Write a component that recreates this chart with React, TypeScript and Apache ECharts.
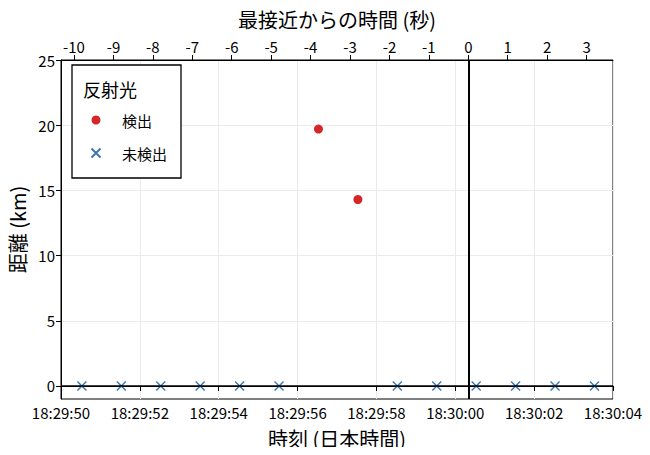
import React, { useEffect, useRef } from "react";
import * as echarts from "echarts";

const FONT = "Noto Sans CJK JP";

// seconds after 18:29:50 at which closest approach occurs
const CA_OFFSET = 10.33;
const SPAN = 14;
const START_H = 18;
const START_M = 29;
const START_S = 50;

const topTicks = [-10, -9, -8, -7, -6, -5, -4, -3, -2, -1, 0, 1, 2, 3];
const yTicks = [0, 5, 10, 15, 20, 25];

// detected points: [seconds from closest approach, distance km]
const detectedT = [-3.8, -2.8];
const detectedD = [19.7, 14.3];

// not-detected points
const missedT = [-9.8, -8.8, -7.8, -6.8, -5.8, -4.8, -1.8, -0.8, 0.2, 1.2, 2.2, 3.2];
const missedD = [0, 0, 0, 0, 0, 0, 0, 0, 0, 0, 0, 0];

const pad = (n: number) => (n < 10 ? "0" + n : "" + n);
const fmtTime = (v: number) => {
  let total = START_H * 3600 + START_M * 60 + START_S + Math.round(v);
  const h = Math.floor(total / 3600);
  total -= h * 3600;
  const m = Math.floor(total / 60);
  const s = total - m * 60;
  return `${h}:${pad(m)}:${pad(s)}`;
};

export default function App() {
  const ref = useRef<HTMLDivElement>(null);
  useEffect(() => {
    if (!ref.current) return;
    const chart = echarts.init(ref.current, undefined, { renderer: "svg" });
    const labelStyle = { color: "#000", fontFamily: FONT, fontSize: 15 };
    const nameStyle = { color: "#000", fontFamily: FONT, fontSize: 20 };
    chart.setOption({
      animation: false,
      backgroundColor: "#fff",
      textStyle: { fontFamily: FONT },
      grid: {
        left: 61,
        right: 37,
        top: 60,
        bottom: 56,
        outerBoundsMode: "none",
        containLabel: false,
        show: true,
        borderColor: "#000",
        borderWidth: 1,
        backgroundColor: "transparent",
      },
      xAxis: [
        {
          type: "value",
          position: "bottom",
          min: 0,
          max: SPAN,
          interval: 2,
          name: "時刻 (日本時間)",
          nameLocation: "middle",
          nameGap: 29,
          nameTextStyle: nameStyle,
          axisLine: { show: true, lineStyle: { color: "#000", width: 1 } },
          axisTick: { show: true, length: 5, lineStyle: { color: "#000" } },
          axisLabel: { ...labelStyle, margin: 6, formatter: (v: number) => fmtTime(v) },
          splitLine: { show: true, lineStyle: { color: "#ebebeb", width: 1 } },
        },
        {
          type: "value",
          position: "top",
          min: -CA_OFFSET,
          max: SPAN - CA_OFFSET,
          name: "最接近からの時間 (秒)",
          nameLocation: "middle",
          nameGap: 31,
          nameTextStyle: nameStyle,
          axisLine: { show: true, lineStyle: { color: "#000", width: 1 } },
          axisTick: { show: true, length: 5, lineStyle: { color: "#000" }, customValues: topTicks },
          axisLabel: {
            ...labelStyle,
            margin: 6,
            customValues: topTicks,
            formatter: (v: number) => String(Math.round(v)),
          },
          splitLine: { show: false },
        },
      ],
      yAxis: {
        type: "value",
        min: -1,
        max: 25,
        name: "距離 (km)",
        nameLocation: "middle",
        nameGap: 28,
        nameTextStyle: nameStyle,
        axisLine: { show: true, lineStyle: { color: "#000", width: 1 } },
        axisTick: { show: true, length: 5, lineStyle: { color: "#000" }, customValues: yTicks },
        axisLabel: { ...labelStyle, margin: 6, customValues: yTicks },
        splitLine: { show: true, lineStyle: { color: "#ebebeb", width: 1 } },
      },
      legend: {
        orient: "vertical",
        left: 84,
        top: 106,
        z: 20,
        itemWidth: 28,
        itemHeight: 9,
        itemGap: 15,
        textStyle: { color: "#000", fontFamily: FONT, fontSize: 15, lineHeight: 18, padding: [0, 0, 0, 7] },
        data: ["検出", "未検出"],
      },
      graphic: [
        {
          type: "rect",
          shape: { x: 72, y: 65, width: 109, height: 113 },
          style: { fill: "#fff", stroke: "#000", lineWidth: 1.3 },
          z: 10,
        },
        {
          type: "text",
          x: 83,
          y: 89,
          style: { text: "反射光", fill: "#000", font: `18px "${FONT}"`, textVerticalAlign: "middle" },
          z: 11,
        },
      ],
      series: [
        {
          type: "line",
          xAxisIndex: 1,
          data: [],
          z: 1,
          markLine: {
            silent: true,
            symbol: "none",
            label: { show: false },
            data: [
              { yAxis: 0, lineStyle: { color: "#000", width: 1.5, type: "solid" } },
              { xAxis: 0, lineStyle: { color: "#000", width: 2, type: "solid" } },
            ],
          },
        },
        {
          name: "検出",
          type: "scatter",
          xAxisIndex: 1,
          symbol: "circle",
          symbolSize: 9,
          itemStyle: { color: "#d62728", opacity: 1 },
          data: detectedT.map((t, i) => [t, detectedD[i]]),
          z: 3,
        },
        {
          name: "未検出",
          type: "scatter",
          xAxisIndex: 1,
          symbol: "path://M0,0L10,10M10,0L0,10",
          symbolSize: 9,
          itemStyle: { color: "none", borderColor: "#3b78b0", borderWidth: 1.4, opacity: 1 },
          data: missedT.map((t, i) => [t, missedD[i]]),
          z: 3,
        },
      ],
    });
    return () => chart.dispose();
  }, []);
  return <div ref={ref} style={{ width: 650, height: 455, margin: -8 }} />;
}
